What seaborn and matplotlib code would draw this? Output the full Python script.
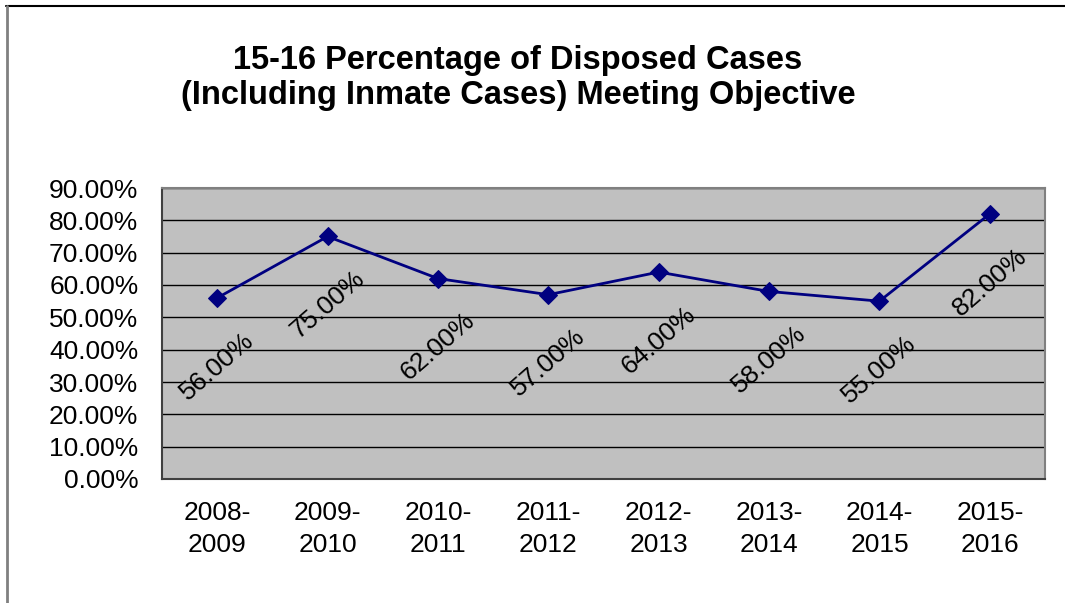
import numpy as np
import matplotlib
matplotlib.use('Agg')
import matplotlib.pyplot as plt
from matplotlib.lines import Line2D
from matplotlib.ticker import FuncFormatter, FixedLocator
import seaborn as sns
import pandas as pd

# Data
periods = ['2008-\n2009', '2009-\n2010', '2010-\n2011', '2011-\n2012',
           '2012-\n2013', '2013-\n2014', '2014-\n2015', '2015-\n2016']
pct_met = [0.56, 0.75, 0.62, 0.57, 0.64, 0.58, 0.55, 0.82]

title = '15-16 Percentage of Disposed Cases\n(Including Inmate Cases) Meeting Objective'

sns.set_style('white')
plt.rcParams['font.family'] = ['Liberation Sans', 'DejaVu Sans']
plt.rcParams['text.color'] = 'black'
plt.rcParams['xtick.labelcolor'] = 'black'
plt.rcParams['ytick.labelcolor'] = 'black'

df = pd.DataFrame({'pos': np.arange(len(periods)), 'pct': pct_met})

fig = plt.figure(figsize=(10.65, 6.03), dpi=100)
ax = fig.add_axes([162 / 1065, 1 - 479 / 603, (1045 - 162) / 1065, (479 - 188) / 603])
ax.set_facecolor('#c0c0c0')

sns.lineplot(data=df, x='pos', y='pct', ax=ax, color='#000080', linewidth=2,
             marker='D', markersize=9, markeredgecolor='#000080', zorder=3)

# data labels, rotated, below each point
for x, v in zip(df['pos'], df['pct']):
    ax.annotate(f'{v * 100:.2f}%', (x, v), xytext=(0, -49), textcoords='offset points',
                ha='center', va='center', rotation=41, fontsize=19, color='black', zorder=4)

ax.set_xlim(-0.5, len(periods) - 0.5)
ax.set_ylim(0, 0.9)
ax.yaxis.set_major_locator(FixedLocator(np.arange(0, 0.91, 0.1)))
ax.yaxis.set_major_formatter(FuncFormatter(lambda v, p: f'{v * 100:.2f}%'))
ax.grid(axis='y', color='black', linewidth=1)
ax.set_axisbelow(True)

ax.set_xticks(df['pos'])
ax.set_xticklabels(periods, linespacing=1.4)
ax.set_xticks(np.arange(-0.5, len(periods)), minor=True)
ax.tick_params(axis='x', which='major', length=0, pad=16, labelsize=19)
ax.tick_params(axis='x', which='minor', length=5, width=1, color='#404040', direction='out')
ax.tick_params(axis='y', length=5, width=1, color='#404040', direction='out', pad=12, labelsize=19)
ax.set_xlabel('')
ax.set_ylabel('')

for side in ['top', 'right']:
    ax.spines[side].set_color('#808080')
    ax.spines[side].set_linewidth(1.5)
for side in ['left', 'bottom']:
    ax.spines[side].set_color('#404040')
    ax.spines[side].set_linewidth(1.5)

fig.text(518 / 1065, 1 - 78 / 603, title, ha='center', va='center',
         fontsize=23.5, fontweight='bold', linespacing=1.15)

# chart frame (only top and left edges visible in the picture)
fig.add_artist(Line2D([6 / 1065, 1], [1 - 6 / 603, 1 - 6 / 603], color='black', linewidth=1.5))
fig.add_artist(Line2D([7 / 1065, 7 / 1065], [0, 1 - 6 / 603], color='#808080', linewidth=2))

fig.savefig('out.png', dpi=100)
